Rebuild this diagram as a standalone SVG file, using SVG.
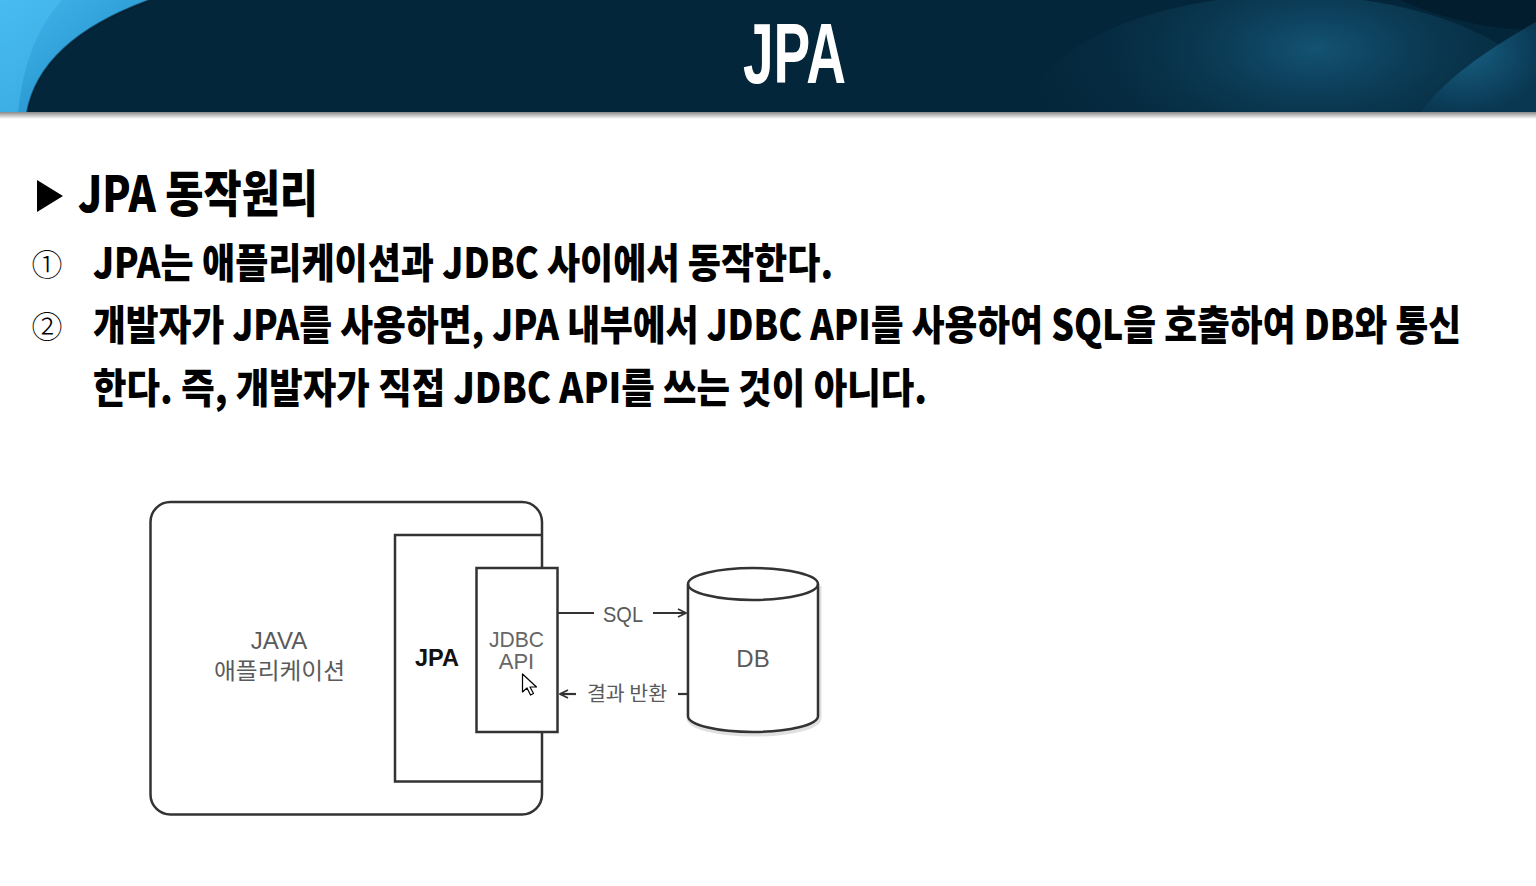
<svg xmlns="http://www.w3.org/2000/svg" width="1536" height="886" viewBox="0 0 1536 886">
<defs>
<style>
.hd{font-family:"Noto Sans CJK KR","Noto Sans",sans-serif;font-weight:900;fill:#000}
.num{font-family:"Noto Sans CJK KR","DejaVu Sans",sans-serif;font-weight:300;fill:#000}
.lat{font-family:"Liberation Sans","Noto Sans CJK KR",sans-serif;fill:#5a5a5a}
.kr{font-family:"Noto Sans CJK KR",sans-serif;fill:#5a5a5a}
.box{fill:#fff;stroke:#333;stroke-width:2.5}
.ln{fill:none;stroke:#333;stroke-width:2.2}
</style>
<clipPath id="hclip"><rect x="0" y="0" width="1536" height="113"/></clipPath>
<linearGradient id="lb" x1="0" y1="0" x2="1" y2="1">
<stop offset="0" stop-color="#45b8ee"/>
<stop offset="1" stop-color="#1a86c2"/>
</linearGradient>
<radialGradient id="glow1" cx="0.55" cy="0.2" r="0.6">
<stop offset="0" stop-color="#15587a" stop-opacity="0.9"/>
<stop offset="1" stop-color="#04263a" stop-opacity="0"/>
</radialGradient>
<radialGradient id="glow2" cx="0.4" cy="0.3" r="0.7">
<stop offset="0" stop-color="#1b6a90"/>
<stop offset="1" stop-color="#0a3a55"/>
</radialGradient>
<linearGradient id="shd" x1="0" y1="0" x2="0" y2="1">
<stop offset="0" stop-color="#8a8a8a"/>
<stop offset="1" stop-color="#ffffff"/>
</linearGradient>
<marker id="ah" viewBox="0 0 10 10" refX="9" refY="5" markerWidth="10" markerHeight="10" markerUnits="userSpaceOnUse" orient="auto">
<path d="M1,1 L9,5 L1,9" fill="none" stroke="#333" stroke-width="1.8"/>
</marker>
</defs>
<rect width="1536" height="886" fill="#fff"/>
<g id="header">
<g clip-path="url(#hclip)">
<rect x="0" y="0" width="1536" height="113" fill="#04263a"/>
<ellipse cx="1290" cy="130" rx="270" ry="135" fill="url(#glow1)"/>
<path d="M1400,0 Q1470,30 1536,30 L1536,0 Z" fill="#021a28" opacity="0.7"/>
<path d="M1536,22 Q1450,70 1420,113 L1536,113 Z" fill="url(#glow2)" opacity="0.8"/>
<path d="M0,0 L150,0 Q40,40 27,113 L0,113 Z" fill="url(#lb)"/>
<path d="M0,0 L62,0 Q25,40 18,113 L0,113 Z" fill="#4cc0f2" opacity="0.5"/>
<path d="M150,0 Q40,40 27,113" fill="none" stroke="#021520" stroke-width="2" opacity="0.6"/>
</g>
<rect x="0" y="112" width="1536" height="7" fill="url(#shd)"/>
<text x="743" y="83" font-family="'Liberation Sans',Arial,sans-serif" font-weight="bold" font-size="85" fill="#fff" textLength="103" lengthAdjust="spacingAndGlyphs">JPA</text>
</g>
<g id="heading">
<path d="M37,180 L63,196 L37,212 Z" fill="#000"/>
<g transform="translate(78,0) scale(0.79,1)">
<text x="0" y="212" class="hd" font-size="50" textLength="303.8" lengthAdjust="spacingAndGlyphs">JPA 동작원리</text>
</g>
</g>
<g id="item1">
<text x="47" y="276" class="num" font-size="31" text-anchor="middle">①</text>
<g transform="translate(93,0) scale(0.84,1)">
<text x="0" y="278" class="hd" font-size="41" textLength="881" lengthAdjust="spacingAndGlyphs">JPA는 애플리케이션과 JDBC 사이에서 동작한다.</text>
</g>
</g>
<g id="item2">
<text x="47" y="338" class="num" font-size="31" text-anchor="middle">②</text>
<g transform="translate(93,0) scale(0.84,1)">
<text x="0" y="340" class="hd" font-size="41" textLength="1628.6" lengthAdjust="spacingAndGlyphs">개발자가 JPA를 사용하면, JPA 내부에서 JDBC API를 사용하여 SQL을 호출하여 DB와 통신</text>
<text x="0" y="403" class="hd" font-size="41" textLength="992.9" lengthAdjust="spacingAndGlyphs">한다. 즉, 개발자가 직접 JDBC API를 쓰는 것이 아니다.</text>
</g>
</g>
<g id="java-app">
<rect x="150.5" y="502" width="391.5" height="312.5" rx="20" class="box"/>
<text x="279" y="649" class="lat" font-size="24" text-anchor="middle">JAVA</text>
<text x="279.5" y="679" class="kr" font-size="23" text-anchor="middle" textLength="131" lengthAdjust="spacingAndGlyphs">애플리케이션</text>
</g>
<g id="jpa">
<path d="M542,535 L395,535 L395,781.5 L542,781.5" fill="none" stroke="#333" stroke-width="2.5"/>
<text x="437" y="666" class="lat" font-size="24" font-weight="bold" text-anchor="middle" style="fill:#111" textLength="44" lengthAdjust="spacingAndGlyphs">JPA</text>
</g>
<g id="jdbc-api">
<rect x="476.5" y="568" width="81" height="164" class="box"/>
<text x="516.5" y="647" class="lat" font-size="22" text-anchor="middle" style="fill:#666" textLength="55" lengthAdjust="spacingAndGlyphs">JDBC</text>
<text x="516.5" y="669" class="lat" font-size="22" text-anchor="middle" style="fill:#666">API</text>
</g>
<g id="db">
<path d="M688,584 L688,716 A65,16 0 0 0 818,716 L818,584" fill="#fff" stroke="#ccc" stroke-width="5" opacity="0.6" transform="translate(1,2)"/>
<path d="M688,584 L688,716 A65,16 0 0 0 818,716 L818,584 A65,16 0 0 0 688,584 Z" class="box"/>
<path d="M688,584 A65,16 0 0 0 818,584" fill="none" stroke="#333" stroke-width="2.5"/>
<text x="753" y="667" class="lat" font-size="24" text-anchor="middle">DB</text>
</g>
<g id="connectors">
<line x1="558" y1="613" x2="594" y2="613" class="ln"/>
<text x="623" y="622" class="lat" font-size="22" text-anchor="middle" textLength="40" lengthAdjust="spacingAndGlyphs">SQL</text>
<line x1="653" y1="613" x2="686" y2="613" class="ln" marker-end="url(#ah)"/>
<line x1="687" y1="694" x2="678" y2="694" class="ln"/>
<text x="627" y="701" class="kr" font-size="20" text-anchor="middle" textLength="80" lengthAdjust="spacingAndGlyphs">결과 반환</text>
<line x1="576" y1="694" x2="560" y2="694" class="ln" marker-end="url(#ah)"/>
</g>
<g id="cursor">
<path d="M522.5,674 L522.5,692 L527,688 L530.5,695 L533.5,693.5 L530,687 L536.5,687 Z" fill="#fff" stroke="#000" stroke-width="1.2" stroke-linejoin="round"/>
</g>
</svg>
